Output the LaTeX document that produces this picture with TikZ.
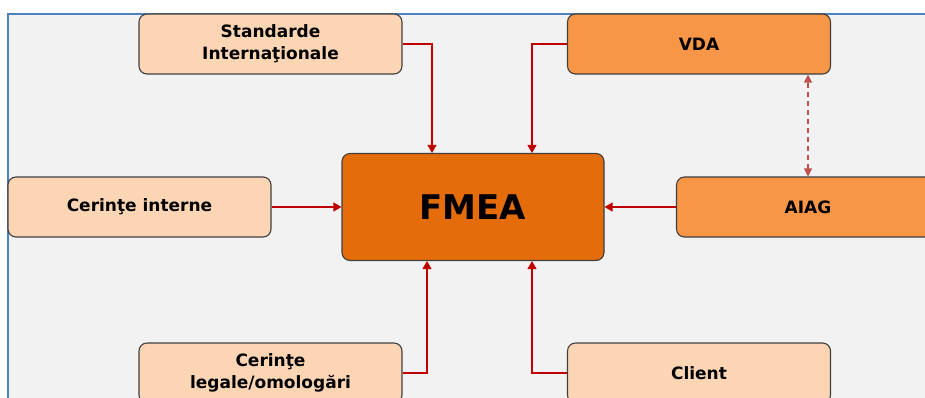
\documentclass[tikz,border=0pt]{standalone}
\usepackage{fontspec}
\setmainfont{DejaVu Sans}
\usetikzlibrary{arrows.meta}
\definecolor{panelfill}{HTML}{F2F2F2}
\definecolor{panelline}{HTML}{4F81BD}
\definecolor{peach}{HTML}{FCD5B4}
\definecolor{orangemid}{HTML}{F79646}
\definecolor{orangedark}{HTML}{E46C0A}
\definecolor{boxline}{HTML}{3F3F3F}
\definecolor{linkred}{HTML}{C00000}
\definecolor{dashred}{HTML}{C0504D}
\tikzset{
  box/.style={draw=boxline, line width=1.1pt, rounded corners=8pt,
    minimum width=263pt, minimum height=60pt, align=center,
    font=\fontsize{17}{22}\selectfont\bfseries, text=black, inner sep=2pt},
  light/.style={box, fill=peach},
  mid/.style={box, fill=orangemid},
  core/.style={box, fill=orangedark, minimum width=262pt, minimum height=107pt,
    font=\fontsize{34}{40}\selectfont\bfseries},
  link/.style={draw=linkred, line width=1.2pt,
    -{Triangle[length=8pt,width=9pt]}},
  peer/.style={draw=dashred, line width=1.1pt, dash pattern=on 5pt off 4pt,
    {Triangle[length=8pt,width=8pt]}-{Triangle[length=8pt,width=8pt]}}
}
\begin{document}
\begin{tikzpicture}[x=1pt,y=-1pt]
  \useasboundingbox (0,0) rectangle (925,397);
  % background panel
  \fill[white] (0,0) rectangle (925,397);
  \draw[fill=panelfill, draw=panelline, line width=1.2pt] (8,14) rectangle (960,430);

  % sources and central node
  \node[light] (std) at (270.5,44) {Standarde\\Internaţionale};
  \node[mid]   (vda) at (699,44) {VDA};
  \node[light] (ci)  at (139.5,207) {Cerinţe interne};
  \node[core]  (fmea) at (473,207) {FMEA};
  \node[mid]   (aiag) at (808,207) {AIAG};
  \node[light] (clg) at (270.5,373) {Cerinţe\\legale/omologări};
  \node[light] (cli) at (699,373) {Client};

  % connectors into FMEA
  \draw[link] (std.east) -| ([xshift=-41pt]fmea.north);
  \draw[link] (vda.west) -| ([xshift=59pt]fmea.north);
  \draw[link] (ci.east) -- (fmea.west);
  \draw[link] (aiag.west) -- (fmea.east);
  \draw[link] (clg.east) -| ([xshift=-46pt]fmea.south);
  \draw[link] (cli.west) -| ([xshift=59pt]fmea.south);

  % VDA <-> AIAG
  \draw[peer] (aiag.north) -- (aiag.north |- vda.south);
\end{tikzpicture}
\end{document}
